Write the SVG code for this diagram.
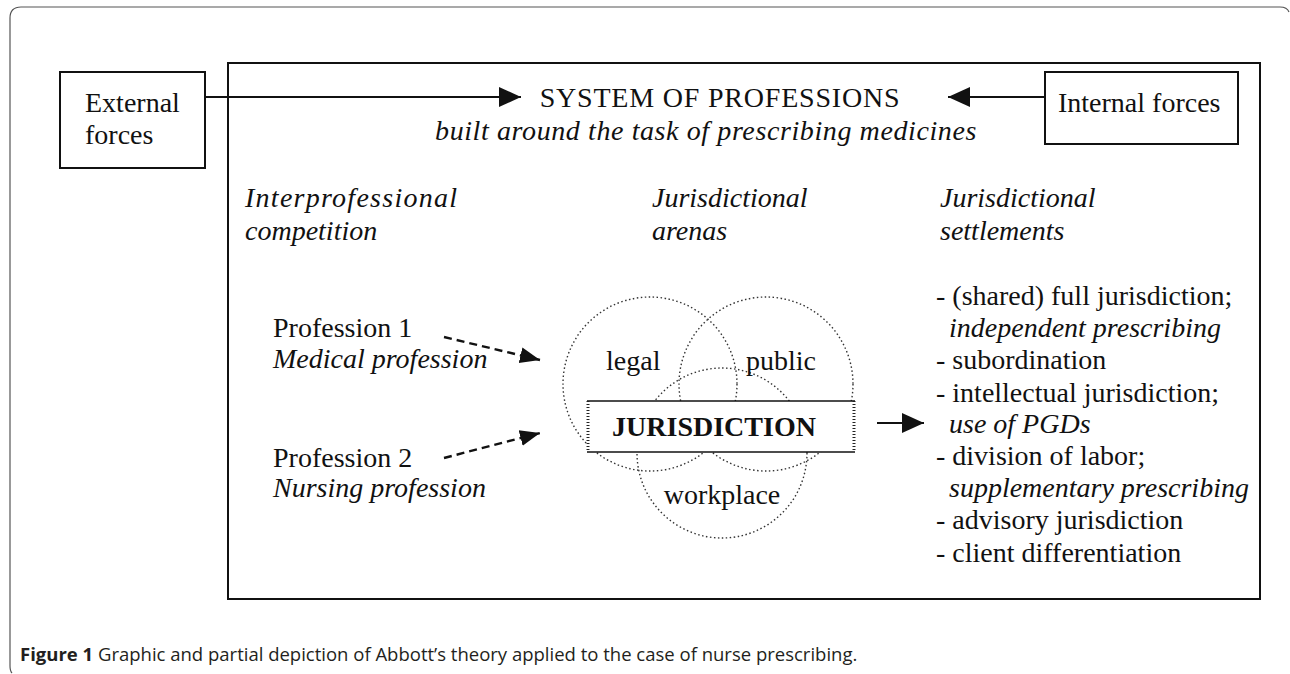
<svg xmlns="http://www.w3.org/2000/svg" width="1290" height="674" viewBox="0 0 1290 674">
<style>
.t{font-family:"Liberation Serif","Times New Roman",serif;font-size:28px;fill:#111}
.i{font-style:italic}
.b{font-weight:bold}
.circ{fill:none;stroke:#333;stroke-width:1.4;stroke-dasharray:1.5 2.5}
.solid{stroke:#111;stroke-width:2;fill:none}
.dash{stroke:#111;stroke-width:2.4;fill:none;stroke-dasharray:8 5}
.cap{font-family:"Open Sans","Noto Sans","Liberation Sans",sans-serif;font-size:18.5px;fill:#231f20}
</style>
<defs>
<marker id="ah" viewBox="0 0 22 22" refX="22" refY="11" markerWidth="22" markerHeight="22" markerUnits="userSpaceOnUse" orient="auto">
<path d="M0,1 L22,11 L0,21 Z" fill="#111"/>
</marker>
<marker id="ahs" viewBox="0 0 20 20" refX="20" refY="10" markerWidth="20" markerHeight="20" markerUnits="userSpaceOnUse" orient="auto">
<path d="M0,2 L20,10 L0,18 Z" fill="#111"/>
</marker>
</defs>
<rect width="1290" height="674" fill="#fff"/>
<path d="M12,673 Q10,671 10,666 L10,18 Q10,7 21,7 L1280,7 Q1287,7 1289,12" fill="none" stroke="#555" stroke-width="1.2"/>
<g id="system">
<rect x="228" y="63" width="1032" height="536" fill="none" stroke="#111" stroke-width="2"/>
<text class="t" x="720" y="107" text-anchor="middle" letter-spacing="0.8">SYSTEM OF PROFESSIONS</text>
<text class="t i" x="706" y="140" text-anchor="middle" letter-spacing="0.6">built around the task of prescribing medicines</text>
</g>
<g id="external">
<rect x="60" y="72" width="145" height="96" fill="#fff" stroke="#111" stroke-width="2"/>
<text class="t" x="85" y="112">External</text>
<text class="t" x="85" y="144">forces</text>
</g>
<g id="internal">
<rect x="1045" y="72" width="193" height="72" fill="#fff" stroke="#111" stroke-width="2"/>
<text class="t" x="1058" y="112">Internal forces</text>
</g>
<g id="headers">
<text class="t i" x="245" y="207" textLength="212" lengthAdjust="spacing">Interprofessional</text>
<text class="t i" x="245" y="240">competition</text>
<text class="t i" x="652" y="207">Jurisdictional</text>
<text class="t i" x="652" y="240">arenas</text>
<text class="t i" x="940" y="207">Jurisdictional</text>
<text class="t i" x="940" y="240">settlements</text>
</g>
<g id="profession1">
<text class="t" x="273" y="337">Profession 1</text>
<text class="t i" x="273" y="368">Medical profession</text>
</g>
<g id="profession2">
<text class="t" x="273" y="467">Profession 2</text>
<text class="t i" x="273" y="497">Nursing profession</text>
</g>
<g id="arenas">
<circle class="circ" cx="650" cy="384" r="87"/>
<circle class="circ" cx="766" cy="384" r="87"/>
<circle class="circ" cx="722" cy="453" r="85"/>
<text class="t" x="606" y="370">legal</text>
<text class="t" x="746" y="370">public</text>
<text class="t" x="722" y="504" text-anchor="middle">workplace</text>
</g>
<g id="jurisdiction">
<rect x="587" y="401" width="268" height="51" fill="#fff"/>
<line x1="587" y1="401" x2="855" y2="401" stroke="#111" stroke-width="1.6"/>
<line x1="587" y1="452" x2="855" y2="452" stroke="#111" stroke-width="1.6"/>
<line x1="588" y1="401" x2="588" y2="452" stroke="#222" stroke-width="3" stroke-dasharray="1 2"/>
<line x1="854" y1="401" x2="854" y2="452" stroke="#222" stroke-width="3" stroke-dasharray="1 2"/>
<text class="t b" x="714" y="436" text-anchor="middle">JURISDICTION</text>
</g>
<g id="settlements">
<text class="t" x="936" y="305">- (shared) full jurisdiction;</text>
<text class="t i" x="949" y="337">independent prescribing</text>
<text class="t" x="936" y="369">- subordination</text>
<text class="t" x="936" y="402">- intellectual jurisdiction;</text>
<text class="t i" x="949" y="433">use of PGDs</text>
<text class="t" x="936" y="465">- division of labor;</text>
<text class="t i" x="949" y="497">supplementary prescribing</text>
<text class="t" x="936" y="529">- advisory jurisdiction</text>
<text class="t" x="936" y="562">- client differentiation</text>
</g>
<g id="connectors">
<line class="solid" x1="205" y1="97" x2="521" y2="97" marker-end="url(#ah)"/>
<line class="solid" x1="1045" y1="97" x2="948" y2="97" marker-end="url(#ah)"/>
<line class="dash" x1="444" y1="337" x2="540" y2="360" marker-end="url(#ahs)"/>
<line class="dash" x1="444" y1="458" x2="540" y2="433" marker-end="url(#ahs)"/>
<line class="solid" x1="877" y1="423" x2="924" y2="423" marker-end="url(#ah)"/>
</g>
<g id="caption">
<text class="cap" x="20" y="661"><tspan font-weight="bold">Figure 1</tspan> Graphic and partial depiction of Abbott’s theory applied to the case of nurse prescribing.</text>
</g>
</svg>
